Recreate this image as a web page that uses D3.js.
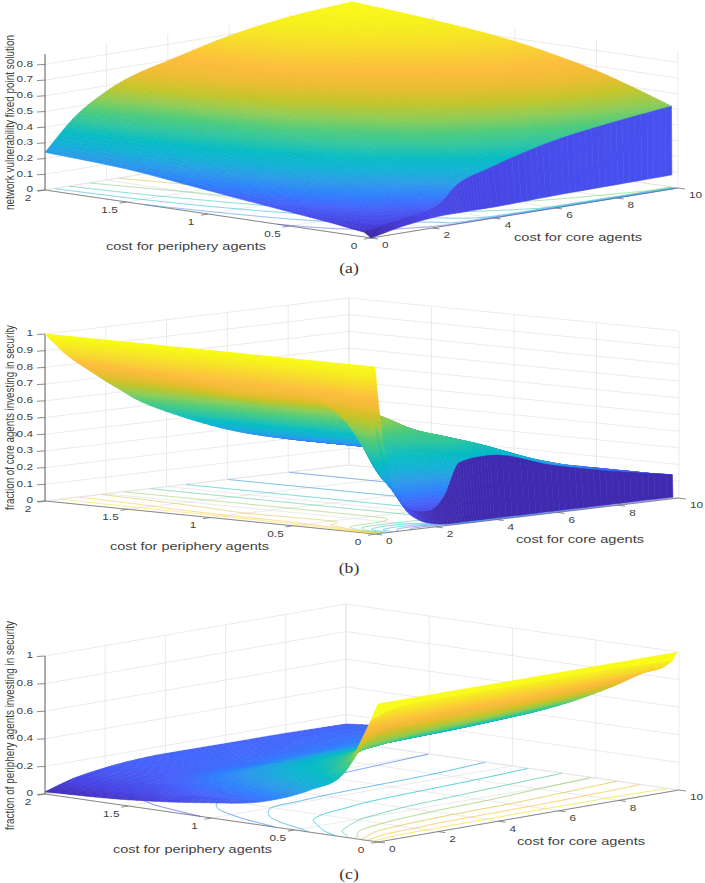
<!DOCTYPE html>
<html><head><meta charset="utf-8">
<script src="https://cdn.jsdelivr.net/npm/d3@7/dist/d3.min.js"></script>
<style>html,body{margin:0;padding:0;background:#fff}svg{display:block}</style>
</head><body><svg id="fig" width="705" height="883" xmlns="http://www.w3.org/2000/svg"></svg>
<script>
// ---------- data ----------
const periphTicks = [0, 0.5, 1, 1.5, 2];
const coreTicks = [0, 2, 4, 6, 8, 10];
const zTicksA = [0, 0.1, 0.2, 0.3, 0.4, 0.5, 0.6, 0.7, 0.8];
const zTicksB = [0, 0.1, 0.2, 0.3, 0.4, 0.5, 0.6, 0.7, 0.8, 0.9, 1];
const zTicksC = [0, 0.2, 0.4, 0.6, 0.8, 1];
const periphLabel = "cost for periphery agents";
const coreLabel = "cost for core agents";
const zLabelA = "network vulnerability fixed point solution";
const zLabelB = "fraction of core agents investing in security";
const zLabelC = "fraction of periphery agents investing in security";

const pNodesA = [0, 0.04, 0.25, 0.5, 1, 1.5, 2];
const cNodesA = [0, 1, 2, 2.5, 3, 4, 6, 8, 10];
const zRowsA = [
 [0, .04, .065, .07, .07, .07, .08, .085, .09],
 [.03, .07, .10, .14, .235, .305, .41, .47, .515],
 [.06, .13, .21, .26, .31, .40, .50, .56, .59],
 [.09, .20, .30, .36, .41, .49, .58, .64, .67],
 [.15, .30, .43, .49, .53, .59, .68, .75, .78],
 [.21, .38, .50, .56, .60, .67, .76, .81, .84],
 [.24, .44, .565, .61, .645, .695, .79, .85, .88]
];
const pNodesB = [0, 0.04, 0.1, 0.2, 0.3, 0.5, 1, 1.5, 2];
const cNodesB = [0, .15, .3, .6, 1, 1.5, 2, 2.5, 3, 4, 6, 8, 10];
const zRowsB = [
 [1, .72, .50, .28, .13, .05, .02, .01, .01, .01, .01, .01, .01],
 [1, .74, .55, .33, .18, .10, .09, .17, .36, .38, .28, .20, .135],
 [1, .80, .58, .36, .28, .25, .27, .38, .46, .43, .30, .20, .13],
 [1, .87, .72, .52, .44, .42, .43, .46, .50, .45, .30, .20, .13],
 [1, .92, .82, .65, .60, .59, .58, .56, .525, .45, .30, .20, .13],
 [1, .95, .88, .76, .72, .69, .66, .61, .545, .45, .30, .20, .13],
 [1, .97, .93, .80, .72, .68, .64, .61, .545, .45, .30, .20, .13],
 [1, .97, .94, .84, .78, .71, .66, .61, .545, .45, .30, .20, .13],
 [1, .97, .94, .88, .815, .745, .675, .61, .545, .45, .30, .20, .126]
];
const pNodesC = [0, 0.04, 0.1, 0.2, 0.4, 0.7, 1, 1.5, 2];
const cNodesC = [0, .5, 1, 2, 3, 4, 6, 8, 10];
const zRowsC = [
 [1, 1, 1, 1, 1, 1, 1, 1, 1],
 [.88, .92, .94, .95, .95, .95, .95, .95, .93],
 [.72, .80, .84, .85, .87, .87, .88, .88, .87],
 [.47, .62, .70, .74, .76, .77, .78, .80, .82],
 [.31, .42, .48, .55, .58, .60, .62, .65, .68],
 [.17, .28, .35, .40, .42, .44, .46, .48, .50],
 [.11, .18, .24, .30, .31, .32, .33, .34, .36],
 [.045, .09, .115, .15, .16, .17, .18, .19, .20],
 [.015, .05, .08, .115, .135, .142, .14, .138, .13]
];
const contourLevelsA = [.1, .2, .3, .4, .5, .6, .7, .8];
const contourLevelsB = [.1, .2, .3, .4, .5, .6, .7, .8, .9];
const contourLevelsC = [.1, .2, .3, .4, .5, .6, .7, .8, .9];
// parula, sampled
const parulaStops = ["#3e26a8","#4741e0","#4760fa","#2f7ffd","#2c9aea","#14b0d6","#05bcc4","#2ec5a3","#4ccb7d","#8ecc56","#c2c529","#ebbc2f","#fdbc3c","#f8d42e","#f6ec1e","#f9fb15"];

// ---------- layout of each panel (orthographic MATLAB view) ----------
const panels = [
 {L:[45,190],F:[371,238],R:[678,188],zs:157,top:.866,ps:pNodesA,cs:cNodesA,zv:zRowsA,zt:zTicksA,zmax:.88,lv:contourLevelsA,edgeEnd:.98,cw:.7,
  zl:zLabelA,zlY:[35,210],pt:[106,266,246],ct:[514,642,237],cap:"(a)",capY:268},
 {L:[45,501],F:[375,534],R:[679,498],zs:167,top:1,ps:pNodesB,cs:cNodesB,zv:zRowsB,zt:zTicksB,zmax:1,lv:contourLevelsB,edgeEnd:.98,cw:.7,
  zl:zLabelB,zlY:[325,510],pt:[110,269,546],ct:[516,644,539],cap:"(b)",capY:568},
 {L:[45,794],F:[378,842],R:[679,790],zs:138,top:1,ps:pNodesC,cs:cNodesC,zv:zRowsC,zt:zTicksC,zmax:1,lv:contourLevelsC,edgeEnd:.993,cw:.9,
  zl:zLabelC,zlY:[621,830],pt:[113,272,849],ct:[517,645,841],cap:"(c)",capY:874}
];

// ---------- helpers ----------
function mono(xs, ys){
  const n = xs.length, d = [], m = new Array(n);
  for(let i=0;i<n-1;i++) d[i]=(ys[i+1]-ys[i])/(xs[i+1]-xs[i]);
  m[0]=d[0]; m[n-1]=d[n-2];
  for(let i=1;i<n-1;i++) m[i]= d[i-1]*d[i]<=0 ? 0 : (d[i-1]+d[i])/2;
  for(let i=0;i<n-1;i++){
    if(d[i]===0){m[i]=0;m[i+1]=0;continue;}
    const a=m[i]/d[i], b=m[i+1]/d[i], s=a*a+b*b;
    if(s>9){const t=3/Math.sqrt(s); m[i]=t*a*d[i]; m[i+1]=t*b*d[i];}
  }
  return x=>{
    let i=d3.bisectRight(xs,x)-1; i=Math.max(0,Math.min(n-2,i));
    const h=xs[i+1]-xs[i], t=(x-xs[i])/h, t2=t*t, t3=t2*t;
    return (2*t3-3*t2+1)*ys[i]+(t3-2*t2+t)*h*m[i]+(-2*t3+3*t2)*ys[i+1]+(t3-t2)*h*m[i+1];
  };
}
function refine(nodes,n){
  const out=[];
  for(let i=0;i<nodes.length-1;i++) for(let k=0;k<n;k++) out.push(nodes[i]+(nodes[i+1]-nodes[i])*k/n);
  out.push(nodes[nodes.length-1]);
  return out;
}
const svg = d3.select("#fig");
const colorStops = parulaStops.map((c,i)=>i/(parulaStops.length-1));
const parula = d3.scaleLinear().domain(colorStops).range(parulaStops).interpolate(d3.interpolateRgb).clamp(true);
const line = d3.line();
const TXT = "#404040", FONT = "'Liberation Sans',Arial,sans-serif";

function stretched(g,text,x,y,anchor,size){
  g.append("text").attr("transform",`translate(${x},${y}) scale(1.42,1)`)
   .attr("text-anchor",anchor).attr("dominant-baseline","central")
   .attr("font-family",FONT).attr("font-size",size).attr("fill",TXT).text(text);
}

panels.forEach(P=>{
  const g = svg.append("g");
  const pS = d3.scaleLinear().domain([0,2]).range([0,1]);
  const cS = d3.scaleLinear().domain([0,10]).range([0,1]);
  const zS = d3.scaleLinear().domain([0,1]).range([0,P.zs]);
  const proj=(p,c,z)=>[
    P.F[0]+(P.L[0]-P.F[0])*pS(p)+(P.R[0]-P.F[0])*cS(c),
    P.F[1]+(P.L[1]-P.F[1])*pS(p)+(P.R[1]-P.F[1])*cS(c)-zS(z)
  ];
  // grid
  const grid=g.append("g").attr("fill","none").attr("stroke","#e3e3e3").attr("stroke-width",.7);
  const seg=(a,b,s)=>{(s||grid).append("path").attr("d",line([a,b]));};
  P.zt.forEach(z=>{ seg(proj(2,0,z),proj(2,10,z)); seg(proj(2,10,z),proj(0,10,z)); });
  coreTicks.forEach(c=>{ seg(proj(2,c,0),proj(2,c,P.top)); seg(proj(0,c,0),proj(2,c,0)); });
  periphTicks.forEach(p=>{ seg(proj(p,10,0),proj(p,10,P.top)); seg(proj(p,0,0),proj(p,10,0)); });
  // axes
  const ax=g.append("g").attr("fill","none").attr("stroke","#707070").attr("stroke-width",.8);
  seg(proj(2,0,0),proj(0,0,0),ax); seg(proj(0,0,0),proj(0,10,0),ax);
  const zax=g.append("g").attr("fill","none").attr("stroke","#555").attr("stroke-width",.9);
  seg(proj(2,0,0),proj(2,0,P.top),zax);
  P.zt.forEach(z=>{const a=proj(2,0,z); seg(a,[a[0]-8,a[1]+.5],ax);});
  periphTicks.forEach(p=>{const a=proj(p,0,0); seg(a,[a[0]-7,a[1]+1.2],ax);});
  coreTicks.forEach(c=>{const a=proj(0,c,0); seg(a,[a[0]+7,a[1]+1],ax);});

  const {ps,cs,zv}=P;
  const rowF = zv.map(r=>mono(cs,r));
  const columnAt = c=>{
    const v=zv.map((_,i)=>rowF[i](c));
    const f=mono(ps.slice(1),v.slice(1));
    return p=> p>=ps[1] ? f(p) : v[0]+(v[1]-v[0])*p/ps[1];
  };
  // floor contours
  const nx=260, ny=320, vals=new Float64Array(nx*ny);
  for(let i=0;i<nx;i++){
    const col=columnAt(10*i/(nx-1));
    for(let j=0;j<ny;j++) vals[j*nx+i]=col(2*j/(ny-1));
  }
  const contours=d3.contours().size([nx,ny]).smooth(true).thresholds(P.lv)(vals);
  const cg=g.append("g").attr("fill","none").attr("stroke-width",P.cw).attr("stroke-opacity",.8);
  contours.forEach(ct=>{
    const segs=[];
    ct.coordinates.forEach(poly=>poly.forEach(ring=>{
      let cur=[];
      ring.forEach(([x,y])=>{
        const inside = x>.6 && x<nx-.6 && y>.6 && y<ny-.6;
        if(inside){ cur.push(proj(2*(y-.5)/(ny-1),10*(x-.5)/(nx-1),0)); }
        else { if(cur.length>1) segs.push(cur); cur=[]; }
      });
      if(cur.length>1) segs.push(cur);
    }));
    cg.append("g").attr("stroke",parula(ct.value/P.zmax)).selectAll("path").data(segs).join("path").attr("d",d=>line(d));
  });
  // surface, far corner first
  const fineC=refine(cs,10), fineP=refine(ps.slice(1),10);
  const cols=fineC.map(c=>columnAt(c));
  const row0=fineC.map(c=>rowF[0](c));
  const Z=fineP.map(p=>cols.map(f=>f(p)));
  const quads=[];
  for(let i=fineP.length-2;i>=0;i--) for(let j=fineC.length-2;j>=0;j--){
    const a=Z[i][j],b=Z[i][j+1],c=Z[i+1][j+1],d=Z[i+1][j];
    quads.push({pts:[proj(fineP[i],fineC[j],a),proj(fineP[i],fineC[j+1],b),proj(fineP[i+1],fineC[j+1],c),proj(fineP[i+1],fineC[j],d)],v:(a+b+c+d)/4});
  }
  // first step from the p = 0 edge carries the colour of that edge
  for(let j=fineC.length-2;j>=0;j--){
    quads.push({pts:[proj(0,fineC[j]*P.edgeEnd,row0[j]),proj(0,fineC[j+1]*P.edgeEnd,row0[j+1]),proj(ps[1],fineC[j+1],Z[0][j+1]),proj(ps[1],fineC[j],Z[0][j])],v:(row0[j]+row0[j+1])/2});
  }
  g.append("g").attr("stroke-width",.6).attr("stroke-linejoin","round").selectAll("path").data(quads).join("path")
    .attr("d",d=>line(d.pts)+"Z")
    .attr("fill",d=>parula(d.v/P.zmax)).attr("stroke",d=>parula(d.v/P.zmax));
  // text
  const t=g.append("g");
  P.zt.forEach(z=>{const a=proj(2,0,z); stretched(t,String(z),a[0]-12,a[1]-.5,"end",8.3);});
  periphTicks.forEach(p=>{const a=proj(p,0,0); stretched(t,String(p),a[0]-17,a[1]+8,"middle",8.3);});
  coreTicks.forEach(c=>{const a=proj(0,c,0); stretched(t,String(c),a[0]+11,a[1]+7.5,"start",8.3);});
  const titleAt=(text,sp)=>{
    t.append("text").attr("x",sp[0]).attr("y",sp[2]).attr("textLength",sp[1]-sp[0]).attr("lengthAdjust","spacingAndGlyphs")
     .attr("dominant-baseline","central").attr("font-family",FONT).attr("font-size",10.5).attr("fill",TXT).text(text);
  };
  titleAt(periphLabel,P.pt); titleAt(coreLabel,P.ct);
  const len=P.zlY[1]-P.zlY[0];
  t.append("text").attr("transform",`translate(9,${P.zlY[1]}) rotate(-90) scale(1,1.35)`).attr("textLength",len).attr("lengthAdjust","spacingAndGlyphs")
    .attr("dominant-baseline","central").attr("font-family",FONT).attr("font-size",9.5).attr("fill",TXT).text(P.zl);
  t.append("text").attr("transform",`translate(349,${P.capY}) scale(1.18,1)`).attr("text-anchor","middle").attr("dominant-baseline","central")
    .attr("font-family","'Liberation Serif','DejaVu Serif',serif").attr("font-size",15).attr("fill","#333").text(P.cap);
});
</script></body></html>
